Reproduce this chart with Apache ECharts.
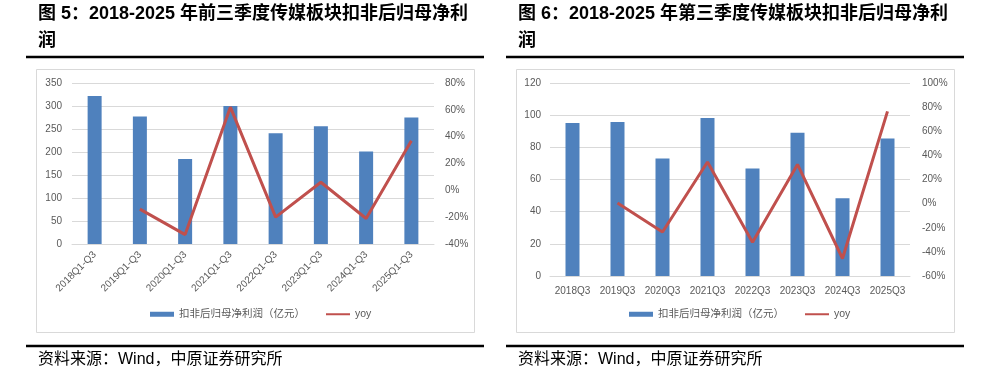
<!DOCTYPE html>
<html>
<head>
<meta charset="utf-8">
<script src="https://cdn.jsdelivr.net/npm/echarts@6/dist/echarts.min.js"></script>
<style>
html, body { margin: 0; padding: 0; background: #fff; }
#chart { width: 986px; height: 376px; }
</style>
</head>
<body>
<div id="chart"></div>
<script>
// 图5 data: first three quarters
var cats1 = ['2018Q1-Q3', '2019Q1-Q3', '2020Q1-Q3', '2021Q1-Q3', '2022Q1-Q3', '2023Q1-Q3', '2024Q1-Q3', '2025Q1-Q3'];
var profit1 = [322, 277, 185, 300, 241, 256, 201, 275];
var yoy1 = [null, -14, -33, 62, -20, 6, -21, 37];

// 图6 data: third quarter
var cats2 = ['2018Q3', '2019Q3', '2020Q3', '2021Q3', '2022Q3', '2023Q3', '2024Q3', '2025Q3'];
var profit2 = [95.2, 95.8, 73, 98.3, 66.8, 89, 48.4, 85.5];
var yoy2 = [null, 0.5, -23.5, 34.5, -32, 32.5, -45.5, 76.5];

var barName = '扣非后归母净利润（亿元）';
var lineName = 'yoy';
var titles = ['图 5：2018-2025 年前三季度传媒板块扣非后归母净利', '图 6：2018-2025 年第三季度传媒板块扣非后归母净利'];
var source = '资料来源：Wind，中原证券研究所';

var FONT = '"Liberation Sans", "Noto Sans CJK SC", sans-serif';
var BLUE = '#4f81bd', RED = '#c0504d', GRID = '#d9d9d9', LABEL = '#595959';

var myChart = echarts.init(document.getElementById('chart'));

function xAxisCfg(idx, data, rotate, margin) {
    return {
        gridIndex: idx, type: 'category', data: data,
        axisLine: { lineStyle: { color: GRID } },
        axisTick: { show: false },
        axisLabel: { interval: 0, rotate: rotate, margin: margin, fontSize: 10, color: LABEL, fontFamily: FONT }
    };
}
function yAxisCfg(idx, pos, min, max, step, pct, margin) {
    return {
        gridIndex: idx, type: 'value', position: pos, min: min, max: max, interval: step,
        axisLine: { show: false }, axisTick: { show: false },
        splitLine: { show: !pct, lineStyle: { color: GRID } },
        axisLabel: { margin: margin, fontSize: 10, color: LABEL, fontFamily: FONT, formatter: pct ? '{value}%' : '{value}' }
    };
}
function legendCfg(left) {
    return {
        left: left, top: 309, padding: 0, orient: 'horizontal', selectedMode: false,
        itemWidth: 24, itemHeight: 5, itemGap: 20,
        textStyle: { fontSize: 10.5, color: LABEL, fontFamily: FONT },
        data: [{ name: barName, icon: 'rect' }, { name: lineName, itemStyle: { opacity: 0 } }]
    };
}
function decor(x0, t) {
    return [
        { type: 'text', x: x0 + 38, y: 14, style: { text: titles[t], font: 'bold 18px ' + FONT, fill: '#000', verticalAlign: 'middle' } },
        { type: 'text', x: x0 + 38, y: 41, style: { text: '润', font: 'bold 18px ' + FONT, fill: '#000', verticalAlign: 'middle' } },
        { type: 'line', shape: { x1: x0 + 26, y1: 57, x2: x0 + 484, y2: 57 }, style: { stroke: '#000', lineWidth: 2.5 } },
        { type: 'rect', shape: { x: x0 + 36.5, y: 69.5, width: 438, height: 263 }, style: { fill: 'none', stroke: GRID, lineWidth: 1 } },
        { type: 'line', shape: { x1: x0 + 26, y1: 346, x2: x0 + 484, y2: 346 }, style: { stroke: '#000', lineWidth: 2.5 } },
        { type: 'text', x: x0 + 38, y: 360, style: { text: source, font: '16px ' + FONT, fill: '#000', verticalAlign: 'middle' } }
    ];
}

var option = {
    animation: false,
    backgroundColor: '#fff',
    grid: [
        { left: 72, right: 552, top: 83, bottom: 132, containLabel: false },
        { left: 550, right: 76, top: 83, bottom: 100, containLabel: false }
    ],
    xAxis: [
        xAxisCfg(0, cats1, 45, 9),
        xAxisCfg(1, cats2, 0, 10)
    ],
    yAxis: [
        yAxisCfg(0, 'left', 0, 350, 50, false, 10),
        yAxisCfg(0, 'right', -40, 80, 20, true, 11),
        yAxisCfg(1, 'left', 0, 120, 20, false, 9),
        yAxisCfg(1, 'right', -60, 100, 20, true, 12)
    ],
    legend: [legendCfg(150), legendCfg(629)],
    series: [
        { name: barName, type: 'bar', xAxisIndex: 0, yAxisIndex: 0, data: profit1, barWidth: 14, itemStyle: { color: BLUE } },
        { name: lineName, type: 'line', xAxisIndex: 0, yAxisIndex: 1, data: yoy1, symbol: 'none', z: 3, lineStyle: { color: RED, width: 3 }, itemStyle: { color: RED } },
        { name: barName, type: 'bar', xAxisIndex: 1, yAxisIndex: 2, data: profit2, barWidth: 14, itemStyle: { color: BLUE } },
        { name: lineName, type: 'line', xAxisIndex: 1, yAxisIndex: 3, data: yoy2, symbol: 'none', z: 3, lineStyle: { color: RED, width: 3 }, itemStyle: { color: RED } }
    ],
    graphic: decor(0, 0).concat(decor(480, 1))
};
myChart.setOption(option);
</script>
</body>
</html>
